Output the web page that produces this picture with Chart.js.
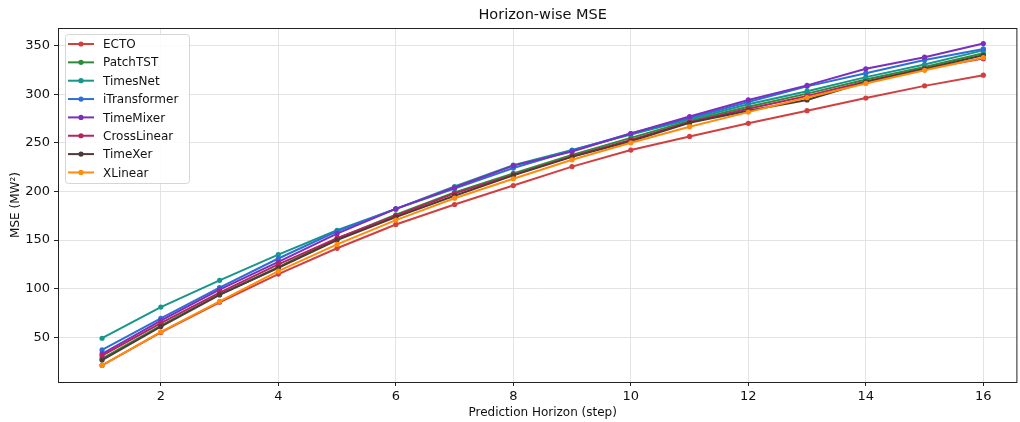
<!DOCTYPE html>
<html>
<head>
<meta charset="utf-8">
<script src="https://cdn.jsdelivr.net/npm/chart.js@4"></script>
<style>
  html, body { margin: 0; padding: 0; background: #fff; }
  #wrap { width: 1020px; height: 422px; position: relative; }
</style>
</head>
<body>
<div id="wrap"><canvas id="mseChart"></canvas></div>
<script>
(function () {
    'use strict';

    var horizons = [1, 2, 3, 4, 5, 6, 7, 8, 9, 10, 11, 12, 13, 14, 15, 16];
    var xTicks = [2, 4, 6, 8, 10, 12, 14, 16];
    var yTicks = [50, 100, 150, 200, 250, 300, 350];

    var ecto        = [21, 55, 86, 115, 141.5, 166, 186.5, 206, 225.5, 242.5, 256.5, 270, 283, 296, 308.5, 319.5];
    var patchTST    = [28, 62, 94, 122, 151.5, 176, 199, 218.5, 237.5, 255, 272.5, 287, 300.5, 315, 328, 342];
    var timesNet    = [49, 81, 108.5, 135, 160, 182, 205, 227, 242.5, 258.5, 274, 289.5, 303, 317.5, 330.5, 345];
    var iTransformer = [37, 69.5, 101, 131, 159, 182, 203, 224, 242, 259.5, 275.5, 292, 308, 321.5, 335, 346.5];
    var timeMixer   = [33, 67, 99, 127.5, 156.5, 182, 204, 226.5, 241, 259.5, 277, 294, 309, 326, 338, 352];
    var crossLinear = [31, 64.5, 96, 125, 152, 175, 198, 217, 236, 253, 271, 285, 298, 313, 326, 336.5];
    var timeXer     = [26.5, 61, 93.5, 121.5, 150, 173.5, 195.5, 216.5, 235.5, 251.5, 270.5, 283, 294, 312.5, 326, 340];
    var xLinear     = [21, 55.5, 87, 118, 145.5, 170.5, 193, 213, 232.5, 250, 266.5, 281.5, 296.5, 311, 324.5, 337.5];

    var names  = ['ECTO', 'PatchTST', 'TimesNet', 'iTransformer', 'TimeMixer', 'CrossLinear', 'TimeXer', 'XLinear'];
    var series = [ecto, patchTST, timesNet, iTransformer, timeMixer, crossLinear, timeXer, xLinear];
    var colors = ['#d23f3f', '#2e8b3a', '#17968b', '#2d6fd3', '#7b2fbf', '#b5245e', '#4e3b38', '#ff8c0a'];

    var FONT = 'DejaVu Sans';

    var datasets = names.map(function (name, i) {
        return {
            label: name,
            data: series[i].map(function (v, k) { return { x: horizons[k], y: v }; }),
            borderColor: colors[i],
            backgroundColor: colors[i],
            borderWidth: 2,
            pointRadius: 2.6,
            pointHoverRadius: 2.6,
            pointBorderWidth: 0,
            tension: 0,
            // later series sit on top, like matplotlib
            order: names.length - i
        };
    });

    // frame, title, x label and in-axes legend
    var decor = {
        id: 'decor',
        afterDraw: function (chart) {
            var ctx = chart.ctx, a = chart.chartArea;
            var xs = chart.scales.x;
            ctx.save();
            ctx.strokeStyle = '#222';
            ctx.lineWidth = 1;
            ctx.strokeRect(a.left + 0.5, a.top + 0.5, a.right - a.left - 1, a.bottom - a.top);

            var cx = xs.getPixelForValue(8.5);
            ctx.fillStyle = '#111';
            ctx.textAlign = 'center';
            ctx.textBaseline = 'middle';
            ctx.font = '14.5px "' + FONT + '"';
            ctx.fillText('Horizon-wise MSE', cx, 15);
            ctx.font = '12px "' + FONT + '"';
            ctx.fillText('Prediction Horizon (step)', cx, 413);

            var bx = a.left + 7, by = a.top + 6, bw = 124, bh = 149;
            ctx.beginPath();
            ctx.roundRect(bx + 0.5, by + 0.5, bw, bh, 3);
            ctx.fillStyle = 'rgba(255,255,255,0.85)';
            ctx.fill();
            ctx.strokeStyle = '#d6d6d6';
            ctx.stroke();

            ctx.font = '12px "' + FONT + '"';
            ctx.textAlign = 'left';
            names.forEach(function (name, i) {
                var y = by + 10 + i * 18.35;
                ctx.strokeStyle = colors[i];
                ctx.lineWidth = 2;
                ctx.beginPath();
                ctx.moveTo(bx + 3, y);
                ctx.lineTo(bx + 29, y);
                ctx.stroke();
                ctx.fillStyle = colors[i];
                ctx.beginPath();
                ctx.arc(bx + 16, y, 2.6, 0, Math.PI * 2);
                ctx.fill();
                ctx.fillStyle = '#111';
                ctx.fillText(name, bx + 38, y + 1);
            });
            ctx.restore();
        }
    };

    new Chart(document.getElementById('mseChart'), {
        type: 'line',
        data: { datasets: datasets },
        plugins: [decor],
        options: {
            responsive: true,
            maintainAspectRatio: false,
            animation: false,
            layout: { padding: { top: 28, right: 1, left: 0, bottom: 0 } },
            plugins: {
                legend: { display: false },
                title: { display: false },
                tooltip: { enabled: false }
            },
            scales: {
                x: {
                    type: 'linear',
                    min: 0.25,
                    max: 16.58,
                    afterBuildTicks: function (s) {
                        s.ticks = xTicks.map(function (v) { return { value: v }; });
                    },
                    afterFit: function (s) { s.height = 40; },
                    grid: { color: '#e3e3e3', lineWidth: 1, tickColor: '#222', tickLength: 4, drawTicks: true },
                    border: { display: false },
                    ticks: { color: '#111', font: { family: FONT, size: 13 }, padding: 3, maxRotation: 0 }
                },
                y: {
                    min: 4,
                    max: 368,
                    afterBuildTicks: function (s) {
                        s.ticks = yTicks.map(function (v) { return { value: v }; });
                    },
                    afterFit: function (s) { s.width = 58; },
                    grid: { color: '#e3e3e3', lineWidth: 1, tickColor: '#222', tickLength: 4, drawTicks: true },
                    border: { display: false },
                    title: {
                        display: true,
                        text: 'MSE (MW²)',
                        color: '#111',
                        font: { family: FONT, size: 12 },
                        padding: { top: 9, bottom: 4 }
                    },
                    ticks: { color: '#111', font: { family: FONT, size: 13 }, padding: 4 }
                }
            }
        }
    });
})();
</script>
</body>
</html>
